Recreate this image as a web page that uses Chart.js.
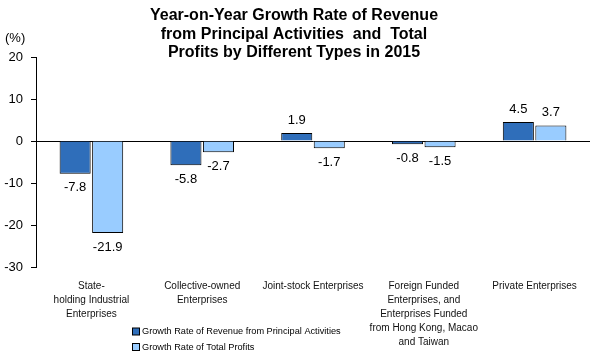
<!DOCTYPE html>
<html>
<head>
<meta charset="utf-8">
<script src="https://cdn.jsdelivr.net/npm/chart.js@4.4.1/dist/chart.umd.min.js"></script>
<style>
    body { margin: 0; background: #fff; }
    #wrap { width: 592px; height: 354px; position: relative; }
</style>
</head>
<body>
<div id="wrap"><canvas id="growthChart"></canvas></div>
<script>
let categories = [
    ["State-", "holding Industrial", "Enterprises"],
    ["Collective-owned", "Enterprises"],
    ["Joint-stock Enterprises"],
    ["Foreign Funded", "Enterprises, and", "Enterprises Funded", "from Hong Kong, Macao", "and Taiwan"],
    ["Private Enterprises"],
];
let revenueGrowth = [-7.8, -5.8, 1.9, -0.8, 4.5];
let profitGrowth = [-21.9, -2.7, -1.7, -1.5, 3.7];
let seriesNames = [
    "Growth Rate of Revenue from Principal Activities",
    "Growth Rate of Total Profits",
];
let yTicks = [20, 10, 0, -10, -20, -30];
let titleLines = [
    "Year-on-Year Growth Rate of Revenue",
    "from Principal Activities  and  Total",
    "Profits by Different Types in 2015",
];

const FONT = "'Liberation Sans', Arial, sans-serif";

// title, unit, value labels and legend drawn on the canvas
const extrasPlugin = {
    id: "extras",
    afterDatasetsDraw(chart) {
        let ctx = chart.ctx;
        ctx.save();
        ctx.fillStyle = "#000";

        ctx.font = "bold 16px " + FONT;
        ctx.textAlign = "center";
        ctx.textBaseline = "middle";
        titleLines.forEach((line, i) => {
            ctx.fillText(line, 294, 16 + i * 18.4);
        });

        ctx.font = "13px " + FONT;
        ctx.textAlign = "left";
        ctx.fillText("(%)", 5, 38);

        // value labels
        ctx.textAlign = "center";
        chart.data.datasets.forEach((ds, di) => {
            let meta = chart.getDatasetMeta(di);
            meta.data.forEach((bar, i) => {
                let v = ds.data[i];
                let y = v >= 0 ? bar.y - 13 : bar.y + 14;
                ctx.fillText(v.toFixed(1), bar.x, y);
            });
        });

        // legend
        ctx.font = "9.2px " + FONT;
        ctx.textAlign = "left";
        chart.data.datasets.forEach((ds, di) => {
            let y = 331.5 + di * 15.5;
            ctx.fillStyle = ds.backgroundColor;
            ctx.fillRect(132.5, y - 3.5, 7, 7);
            ctx.strokeStyle = "#000";
            ctx.lineWidth = 1;
            ctx.strokeRect(132.5, y - 3.5, 7, 7);
            ctx.fillStyle = "#000";
            ctx.fillText(ds.label, 142, y);
        });
        ctx.restore();
    },
};

let ctx = document.querySelector("#growthChart").getContext("2d");

let myChart = new Chart(ctx, {
    type: "bar",
    data: {
        labels: categories,
        datasets: [
            {
                label: seriesNames[0],
                data: revenueGrowth,
                backgroundColor: "#2F6EBA",
                borderColor: "#000",
                borderWidth: 1,
            },
            {
                label: seriesNames[1],
                data: profitGrowth,
                backgroundColor: "#99CCFF",
                borderColor: "#000",
                borderWidth: 1,
            },
        ],
    },
    options: {
        responsive: true,
        maintainAspectRatio: false,
        animation: false,
        devicePixelRatio: 1,
        categoryPercentage: 0.587,
        barPercentage: 0.955,
        layout: {
            padding: { top: 57, right: 2, left: 0, bottom: 0 },
        },
        plugins: {
            legend: { display: false },
            title: { display: false },
            tooltip: { enabled: false },
        },
        scales: {
            x: {
                grid: { display: false, drawTicks: false },
                border: { display: false },
                afterFit: (scale) => {
                    scale.height = 87;
                },
                ticks: {
                    autoSkip: false,
                    maxRotation: 0,
                    minRotation: 0,
                    padding: 12,
                    color: "#111",
                    font: { family: FONT, size: 10, lineHeight: 1.4 },
                },
            },
            y: {
                min: -30,
                max: 20,
                afterBuildTicks: (axis) => {
                    axis.ticks = yTicks.map((v) => ({ value: v }));
                },
                afterFit: (scale) => {
                    scale.width = 36;
                },
                grid: {
                    drawOnChartArea: true,
                    drawTicks: true,
                    tickLength: 5,
                    color: (c) => (c.tick && c.tick.value === 0 ? "#000" : "rgba(0,0,0,0)"),
                    tickColor: "#000",
                    lineWidth: 1,
                },
                border: { display: true, color: "#000", width: 1 },
                ticks: {
                    padding: 8,
                    color: "#000",
                    font: { family: FONT, size: 13 },
                },
            },
        },
    },
    plugins: [extrasPlugin],
});
</script>
</body>
</html>
